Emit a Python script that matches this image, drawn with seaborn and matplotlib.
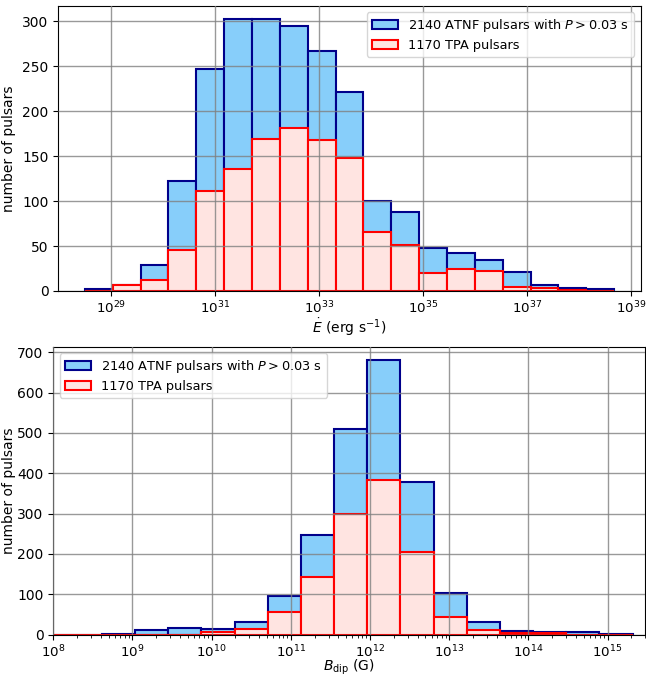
import numpy as np
import pandas as pd
import matplotlib
matplotlib.use("Agg")
import matplotlib.pyplot as plt
from matplotlib.patches import Patch
from matplotlib.ticker import NullLocator
import seaborn as sns

# Spin-down luminosity histogram: log10 bin edges and counts per bin
edot_log_edges = np.linspace(28.49, 38.68, 20)
edot_atnf = [2, 7, 29, 122, 247, 302, 302, 295, 267, 221, 100, 88, 48, 42, 35, 21, 7, 3, 2]
edot_tpa = [0, 7, 12, 46, 111, 136, 169, 181, 168, 148, 66, 51, 20, 24, 22, 5, 3, 1, 0]

# Dipole magnetic field histogram: log10 bin edges and counts per bin
bdip_log_edges = np.linspace(7.775, 15.317, 19)
bdip_atnf = [0, 0, 2, 11, 15, 13, 31, 95, 248, 510, 680, 379, 104, 30, 8, 7, 6, 1]
bdip_tpa = [0, 0, 0, 0, 0, 6, 14, 56, 143, 300, 384, 205, 43, 12, 4, 3, 0, 0]

edot_ticks = [29, 31, 33, 35, 37, 39]
bdip_ticks = [8, 9, 10, 11, 12, 13, 14, 15]

label_atnf = r"2140 ATNF pulsars with $P > 0.03$ s"
label_tpa = "1170 TPA pulsars"

blue_face, blue_edge = "#87cefa", "#00008b"
red_face, red_edge = "#ffe4e1", "#ff0000"

W, H = 646, 675
fig = plt.figure(figsize=(W / 100, H / 100), dpi=100)
ax1 = fig.add_axes([58.3 / W, 1 - 291 / H, (640.7 - 58.3) / W, (291 - 5.7) / H])
ax2 = fig.add_axes([53.3 / W, 1 - 634.5 / H, (645.3 - 53.3) / W, (634.5 - 346.7) / H])


def draw_pair(ax, log_edges, atnf, tpa):
    centers = 10 ** (0.5 * (log_edges[:-1] + log_edges[1:]))
    df = pd.DataFrame({"x": centers, "atnf": atnf, "tpa": tpa})
    for col, fc, ec in [("atnf", blue_face, blue_edge), ("tpa", red_face, red_edge)]:
        sns.histplot(data=df, x="x", weights=col, bins=list(log_edges), log_scale=True,
                     ax=ax, color=fc, edgecolor=ec, linewidth=1.5, alpha=1.0,
                     element="bars", fill=True)
    ax.set_axisbelow(False)
    ax.grid(True, which="major", color="gray", alpha=0.8, linewidth=1.0)
    ax.tick_params(axis="x", which="major", labelsize=9.6, pad=3)
    ax.tick_params(axis="y", labelsize=10)
    ax.set_ylabel("number of pulsars", fontsize=10)
    # put the y label at the same figure x position in both panels
    left = ax.get_position().x0 * W
    width = ax.get_position().width * W
    ax.yaxis.set_label_coords((16 - left) / width, 0.5)


draw_pair(ax1, edot_log_edges, edot_atnf, edot_tpa)
ax1.set_xlim(10 ** 27.98, 10 ** 39.19)
ax1.set_xticks([10.0 ** t for t in edot_ticks])
ax1.xaxis.set_minor_locator(NullLocator())
ax1.set_xlabel(r"$\dot{E}$ (erg s$^{-1}$)", fontsize=10, labelpad=0)

draw_pair(ax2, bdip_log_edges, bdip_atnf, bdip_tpa)
ax2.set_xlim(1e8, 3e15)
ax2.set_xticks([10.0 ** t for t in bdip_ticks])
ax2.set_xlabel(r"$B_{\rm dip}$ (G)", fontsize=10, labelpad=-1.8)

handles = [Patch(facecolor=blue_face, edgecolor=blue_edge, linewidth=1.5, label=label_atnf),
           Patch(facecolor=red_face, edgecolor=red_edge, linewidth=1.5, label=label_tpa)]
ax1.legend(handles=handles, loc="upper right", fontsize=9.3, labelspacing=0.35)
ax2.legend(handles=handles, loc="upper left", fontsize=9.3, labelspacing=0.35)

fig.savefig("out.png", dpi=100)
